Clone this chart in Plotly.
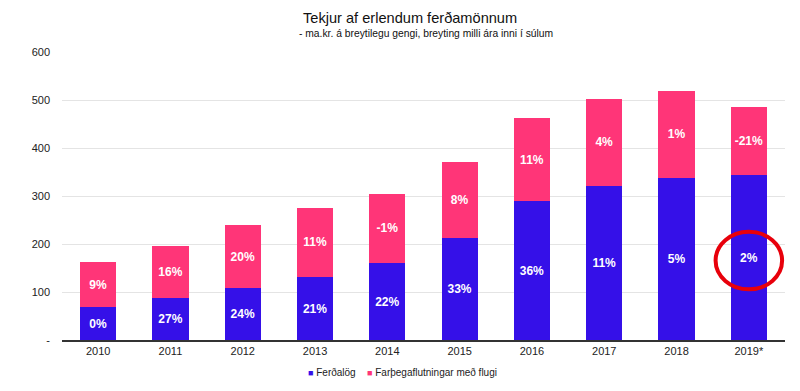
import plotly.graph_objects as go

years = ["2010", "2011", "2012", "2013", "2014", "2015", "2016", "2017", "2018", "2019*"]
ferdalog = [68, 87, 108, 131, 160, 213, 289, 321, 338, 343]
farthega = [95, 109, 131, 145, 145, 157, 174, 181, 181, 142]
ferdalog_pct = ["0%", "27%", "24%", "21%", "22%", "33%", "36%", "11%", "5%", "2%"]
farthega_pct = ["9%", "16%", "20%", "11%", "-1%", "8%", "11%", "4%", "1%", "-21%"]
y_ticks = [0, 100, 200, 300, 400, 500, 600]
y_ticktext = ["-", "100", "200", "300", "400", "500", "600"]
series_names = ["Ferðalög", "Farþegaflutningar með flugi"]

BLUE = "#3510e8"
PINK = "#ff3578"
FONT = "Liberation Sans, Arial, sans-serif"

fig = go.Figure()
for vals, pct, name, col in [(ferdalog, ferdalog_pct, series_names[0], BLUE),
                             (farthega, farthega_pct, series_names[1], PINK)]:
    fig.add_trace(go.Bar(
        x=years, y=vals, name=name, marker=dict(color=col, line=dict(width=0)),
        text=pct, textposition="inside", insidetextanchor="middle",
        textangle=0, constraintext="none",
        textfont=dict(color="white", size=12, family=FONT, weight="bold"),
        hoverinfo="x+y", showlegend=False,
    ))

# highlight circle around the last Ferðalög value
idx = len(years) - 1
cy = ferdalog[idx] / 2 - 6
fig.add_shape(type="circle", xref="x", yref="y",
              x0=idx - 0.46, x1=idx + 0.46, y0=cy - 60, y1=cy + 60,
              line=dict(color="#e8000b", width=4))

fig.add_annotation(text="Tekjur af erlendum ferðamönnum", xref="paper", yref="paper",
                   x=0.481, y=1, yshift=34, showarrow=False, xanchor="center", yanchor="middle",
                   font=dict(size=14.6, color="#111", family=FONT))
fig.add_annotation(text="- ma.kr. á breytilegu gengi, breyting milli ára inni í súlum", xref="paper", yref="paper",
                   x=0.503, y=1, yshift=19, showarrow=False, xanchor="center", yanchor="middle",
                   font=dict(size=10.3, color="#111", family=FONT))

# legend (drawn as text entries with coloured squares)
for xpos, name, col in [(0.3375, series_names[0], BLUE), (0.4195, series_names[1], PINK)]:
    fig.add_annotation(text=f"<span style='color:{col}; font-size:9px'>■</span> {name}",
                       xref="paper", yref="paper", x=xpos, y=-0.113, showarrow=False,
                       xanchor="left", yanchor="middle",
                       font=dict(size=10, color="#222", family=FONT))

# page body adds an 8px margin, so the figure is 8px smaller and shifted
fig.update_layout(
    width=792, height=383, barmode="stack", bargap=0.5,
    margin=dict(l=54, r=15, t=44, b=50.5, autoexpand=False),
    paper_bgcolor="white", plot_bgcolor="white",
    font=dict(family=FONT, size=11, color="#222"),
    showlegend=False,
    xaxis=dict(showline=True, linecolor="#333", linewidth=1.5, ticks="", showgrid=False,
               tickfont=dict(size=11, color="#222")),
    yaxis=dict(range=[0, 600], tickvals=y_ticks, ticktext=y_ticktext, showgrid=True,
               gridcolor="#e4e4e4", gridwidth=1, zeroline=False, ticks="", ticklabelstandoff=11,
               tickfont=dict(size=11, color="#222")),
)

fig.write_html("out.html")
